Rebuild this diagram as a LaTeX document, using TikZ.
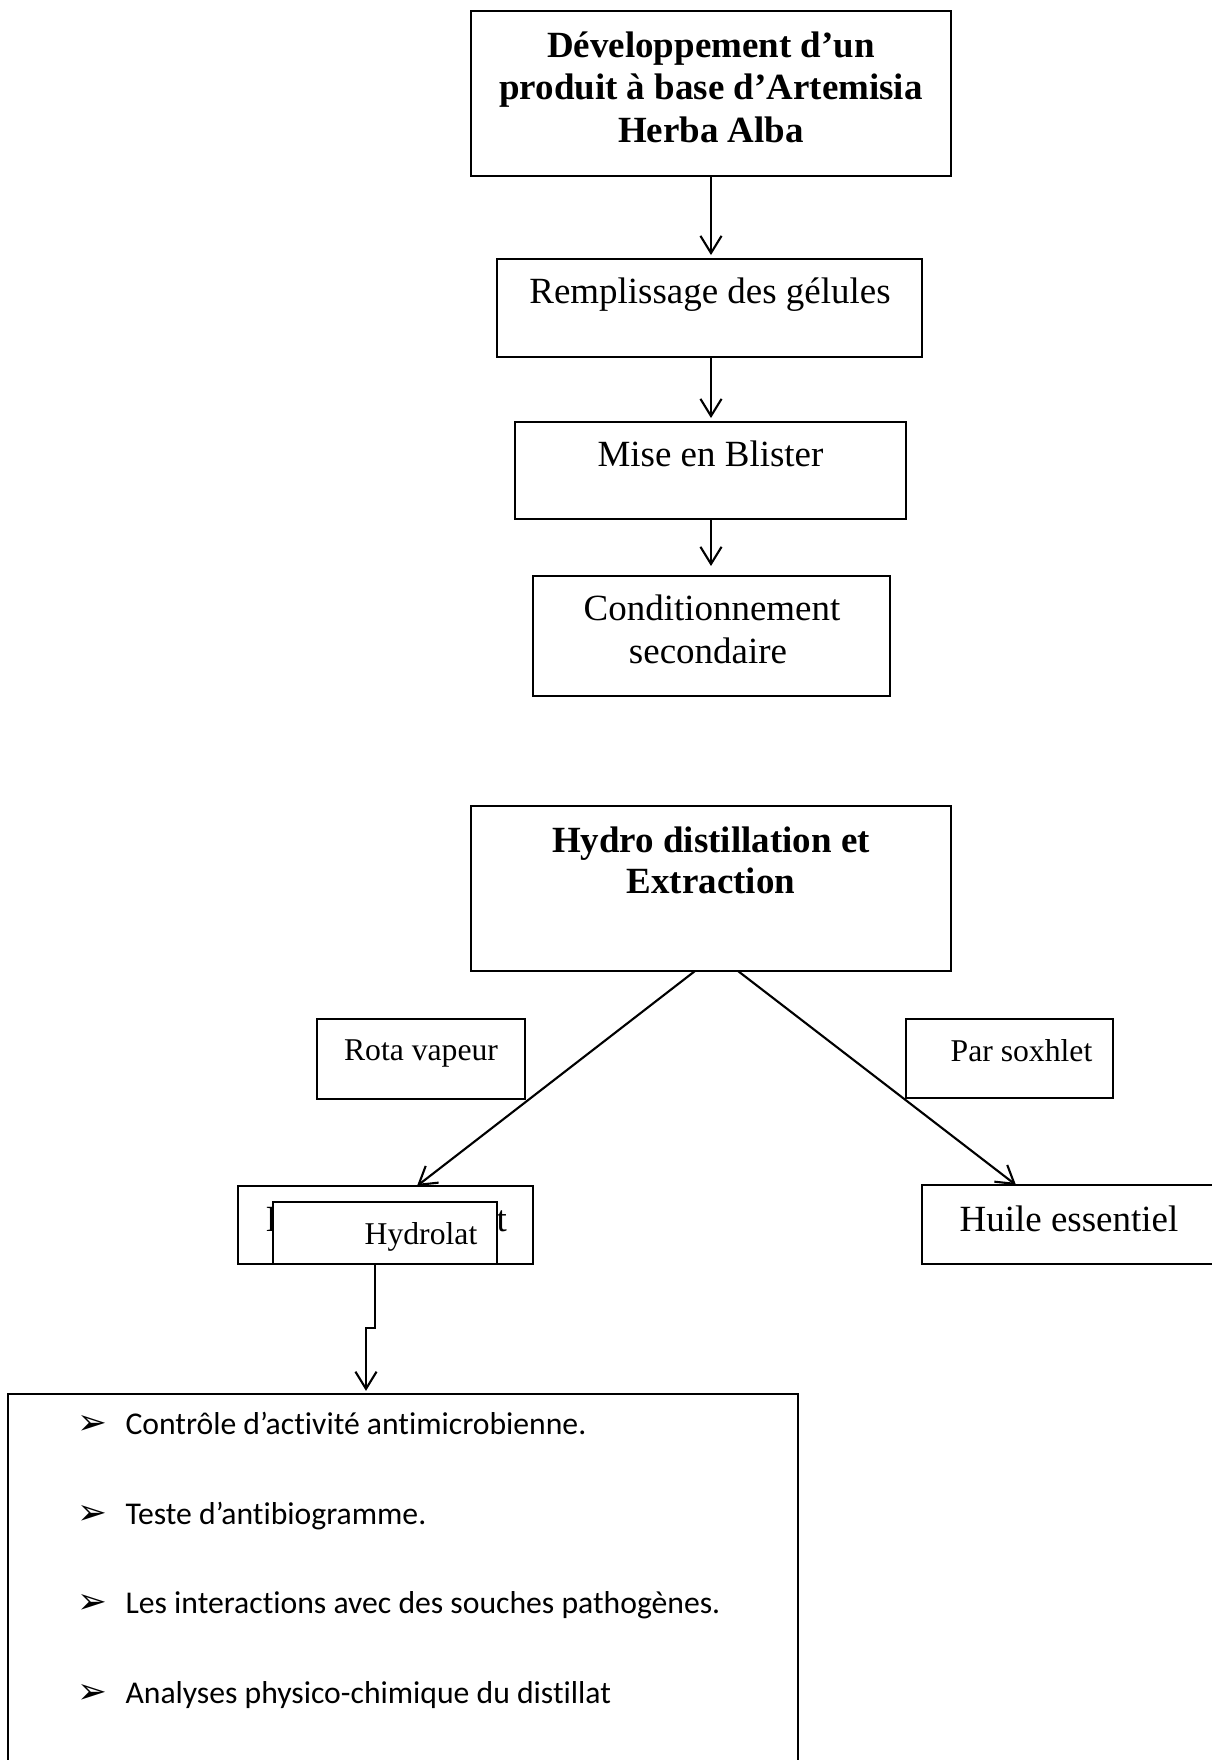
\documentclass[tikz,border=0pt]{standalone}
\usepackage{fontspec}
\setmainfont{Liberation Serif}
\newfontfamily\calib[Ligatures={NoCommon,NoRare,NoContextual}]{Carlito}
\newfontfamily\dejavu{DejaVu Sans}
\usetikzlibrary{arrows.meta,calc}
\begin{document}
\begin{tikzpicture}[x=0.3788pt,y=-0.3788pt,
  sz/.style 2 args={minimum width={#1*0.3788pt}, minimum height={#2*0.3788pt}},
  box/.style={draw, line width=0.45pt, fill=white, inner sep=0pt, outer sep=0pt},
  thickbox/.style={box, line width=0.8pt},
  arr/.style={line width=0.8pt, -{Straight Barb[length=6.5pt,width=8pt]}},
  big/.style={anchor=base, inner sep=0pt, font=\fontsize{14}{16}\selectfont},
  bigb/.style={big, font=\fontsize{14}{16}\selectfont\bfseries},
  small/.style={anchor=base, inner sep=0pt, font=\fontsize{12}{14}\selectfont},
  bullet/.style={anchor=base west, inner sep=0pt, font=\fontsize{13.5}{15}\dejavu},
  item/.style={anchor=base west, inner sep=0pt, font=\fontsize{12}{14}\calib}]
\useasboundingbox (0,0) rectangle (1212,1760);
\begin{scope}
\clip (0,0) rectangle (1212,1760);
% top chain
\node[box, sz={480}{165}] (b1) at (711,93.5) {};
\node[bigb] (t1a) at (711,57) {Développement d’un};
\node[bigb] (t1b) at (711,99.5) {produit à base d’Artemisia};
\node[bigb] (t1c) at (711,142) {Herba Alba};
\node[box, sz={425}{98}] (b2) at (709.5,308) {};
\node[big] (t2) at (710,303) {Remplissage des gélules};
\node[box, sz={391}{97}] (b3) at (710.5,470.5) {};
\node[big] (t3) at (710.5,466) {Mise en Blister};
\node[box, sz={357}{120}] (b4) at (711.5,636) {};
\node[big] (t4a) at (712,620) {Conditionnement};
\node[big] (t4b) at (708,663) {secondaire};
\draw[arr, shorten >=1.5pt] (b1.south) -- (b1.south |- b2.north);
\draw[arr, shorten >=1.5pt] (b2.south -| b1.south) -- (b1.south |- b3.north);
\draw[arr, shorten >=3.8pt] (b3.south -| b1.south) -- (b1.south |- b4.north);
% second part
\node[box, sz={480}{165}] (hd) at (711,888.5) {};
\node[bigb] (t5a) at (711,852) {Hydro distillation et};
\node[bigb] (t5b) at (711,893) {Extraction};
\node[box, sz={208}{80}] (rota) at (421,1059) {};
\node[small] (trota) at (421,1060) {Rota vapeur};
\node[thickbox, sz={207}{79}] (sox) at (1009.5,1058.5) {};
\node[small] (tsox) at (1021.5,1061) {Par soxhlet};
\node[box, sz={295}{78}] (back) at (385.5,1225) {};
\node[big, anchor=base west] (tbackl) at (265,1231) {I};
\node[big, anchor=base east] (tbackr) at (507.5,1231) {t};
\node[box, sz={295}{79}] (huile) at (1069.5,1224.5) {};
\node[big] (thuile) at (1069,1231) {Huile essentiel};
\node[thickbox, sz={224}{62}] (hyd) at (385,1233) {};
\node[small] (thyd) at (421,1244) {Hydrolat};
\draw[arr] ($(hd.south)+(-16,0)$) -- ($(back.north)+(31.5,0)$);
\draw[arr] ($(hd.south)+(27,0)$) -- ($(huile.north)+(-53.5,0)$);
% bottom box
\node[box, sz={790}{406}] (ctrl) at (403,1597) {};
\draw[arr, shorten >=1.2pt] ($(hyd.south)+(-10,0)$) -- ++(0,64) -| ($(ctrl.north)+(-37,0)$);
\node[bullet] (k1) at (77,1434) {➢};
\node[item] (i1) at (125,1434) {Contrôle d’activité antimicrobienne.};
\node[bullet] (k2) at (77,1524) {➢};
\node[item] (i2) at (125,1524) {Teste d’antibiogramme.};
\node[bullet] (k3) at (77,1613) {➢};
\node[item] (i3) at (125,1613) {Les interactions avec des souches pathogènes.};
\node[bullet] (k4) at (77,1703) {➢};
\node[item] (i4) at (125,1703) {Analyses physico-chimique du distillat};
\end{scope}
\end{tikzpicture}
\end{document}
